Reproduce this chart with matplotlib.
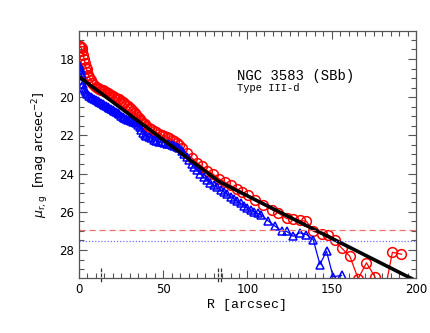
import numpy as np
import matplotlib
matplotlib.use("Agg")
import matplotlib.pyplot as plt
from matplotlib.ticker import MultipleLocator

# r-band profile (red circles)
r_rad = [0.0, 0.5, 1.0, 1.5, 2.0, 2.5, 3.0, 3.5, 4.0, 4.5, 5.0, 5.5, 6.0, 7.0, 8.0, 9.0,
         10.0, 11.0, 12.0, 13.0, 14.0, 15.0, 16.0, 17.0, 18.0, 19.0, 20.0, 21.0, 22.0,
         23.0, 24.0, 25.0, 26.0, 27.0, 28.0, 29.0, 30.0, 31.0, 32.0, 33.0, 34.0, 35.0,
         36.0, 37.0, 38.0, 39.0, 40.0, 41.5, 43.0, 44.5, 46.0, 47.5, 49.0, 50.5, 52.0,
         53.5, 55.0, 56.5, 58.0, 59.5, 61.0, 64.0, 67.0, 70.0, 73.0, 76.0, 79.5, 83.0,
         86.5, 90.0, 93.5, 97.0, 100.5, 104.5, 109.3, 114.3, 118.2, 123.2, 127.1, 131.1,
         135.0, 139.0, 144.0, 148.0, 151.8, 155.8, 160.7, 165.7, 170.6, 175.6, 180.5,
         186.0, 191.4]
r_mu = [17.30, 17.30, 17.35, 17.45, 17.60, 17.80, 18.00, 18.20, 18.40, 18.55, 18.70,
        18.82, 18.93, 19.10, 19.25, 19.38, 19.48, 19.52, 19.55, 19.60, 19.65, 19.70,
        19.75, 19.80, 19.84, 19.88, 19.92, 19.97, 20.02, 20.07, 20.12, 20.18, 20.25,
        20.32, 20.40, 20.48, 20.56, 20.64, 20.74, 20.84, 20.94, 21.04, 21.14, 21.24,
        21.33, 21.42, 21.50, 21.60, 21.68, 21.76, 21.84, 21.92, 21.98, 22.04, 22.10,
        22.16, 22.22, 22.30, 22.40, 22.52, 22.66, 22.94, 23.18, 23.42, 23.62, 23.84,
        24.02, 24.26, 24.44, 24.62, 24.80, 24.98, 25.14, 25.36, 25.62, 25.88, 26.06,
        26.35, 26.40, 26.45, 26.50, 27.02, 27.17, 27.22, 27.45, 27.89, 28.32, 29.50,
        28.67, 29.40, 30.60, 28.12, 28.22]

# g-band profile (blue triangles)
g_rad = [0.0, 0.5, 1.0, 1.5, 2.0, 2.5, 3.0, 3.5, 4.0, 5.0, 6.0, 7.0, 8.0, 9.0, 10.0,
         11.0, 12.0, 13.0, 14.0, 15.0, 16.0, 17.0, 18.0, 19.0, 20.0, 21.0, 22.0, 23.0,
         24.0, 25.0, 26.0, 27.0, 28.0, 29.0, 30.0, 31.0, 32.0, 33.0, 34.0, 35.0, 36.0,
         37.0, 38.0, 39.0, 40.0, 41.5, 43.0, 44.5, 46.0, 47.5, 49.0, 50.5, 52.0, 53.5,
         55.0, 56.5, 58.0, 59.5, 61.0, 62.5, 64.0, 65.5, 67.0, 68.5, 70.0, 72.0, 74.0,
         76.0, 78.0, 80.0, 82.0, 84.0, 86.0, 88.0, 90.0, 92.0, 94.0, 96.0, 98.0, 100.0,
         102.0, 104.0, 106.0, 108.3, 112.3, 116.2, 120.2, 123.2, 127.1, 131.1, 135.0,
         139.0, 143.0, 146.9, 150.8, 155.8]
g_mu = [18.30, 18.40, 18.60, 18.85, 19.10, 19.30, 19.50, 19.62, 19.72, 19.85, 19.93,
        20.00, 20.05, 20.10, 20.14, 20.19, 20.24, 20.30, 20.36, 20.42, 20.48, 20.53,
        20.58, 20.63, 20.68, 20.73, 20.78, 20.84, 20.90, 20.96, 21.02, 21.08, 21.13,
        21.18, 21.22, 21.26, 21.29, 21.32, 21.36, 21.44, 21.57, 21.72, 21.86, 21.97,
        22.04, 22.10, 22.16, 22.22, 22.27, 22.32, 22.36, 22.40, 22.44, 22.47, 22.50,
        22.54, 22.60, 22.68, 22.80, 22.95, 23.12, 23.30, 23.48, 23.64, 23.80, 24.02,
        24.18, 24.33, 24.47, 24.60, 24.72, 24.84, 24.96, 25.08, 25.20, 25.32, 25.44,
        25.56, 25.67, 25.78, 25.89, 25.99, 26.08, 26.17, 26.48, 26.74, 27.00, 27.02,
        27.28, 27.10, 27.19, 27.45, 28.76, 28.06, 29.40, 29.33]

# broken exponential fit
fit_rad = [0.0, 83.0, 200.0]
fit_mu = [18.93, 24.41, 29.61]

# surface brightness limits
lim_r = 26.93
lim_g = 27.54

# break radii markers
breaks = [13.0, 82.5, 84.2]

fig = plt.figure(figsize=(4.3, 3.33), dpi=100)
ax = fig.add_axes([0.1837, 0.1643, 0.7837, 0.7435])

ax.plot(r_rad, r_mu, color="red", lw=0.9, marker="o", ms=7, mfc="none",
        mec="red", mew=1.1)
ax.plot(g_rad, g_mu, color="blue", lw=0.9, marker="^", ms=6, mfc="none",
        mec="blue", mew=1.1)
ax.plot(fit_rad, fit_mu, color="black", lw=2.6)

ax.axhline(lim_r, color="#f07070", lw=0.9, ls=(0, (5, 3)))
ax.axhline(lim_g, color="#7070ff", lw=0.9, ls=(0, (1, 1.5)))

for b in breaks:
    ax.plot([b, b], [28.95, 29.75], color="#333333", lw=0.9, ls=(0, (3, 1)),
            clip_on=False)

ax.set_xlim(0, 200)
ax.set_ylim(29.48, 16.52)
ax.xaxis.set_major_locator(MultipleLocator(50))
ax.xaxis.set_minor_locator(MultipleLocator(5))
ax.yaxis.set_major_locator(MultipleLocator(2))
ax.yaxis.set_minor_locator(MultipleLocator(0.5))
ax.tick_params(which="both", direction="in", top=True, right=True,
               color="#555555", labelsize=8.5)
ax.tick_params(which="major", length=6, width=0.8)
ax.tick_params(which="minor", length=3.5, width=0.8)
for s in ax.spines.values():
    s.set_color("#555555")
    s.set_linewidth(0.9)

ax.set_xlabel("R [arcsec]", family="Liberation Mono", fontsize=9.5, labelpad=2)
ax.set_ylabel(r"$\mu_{\rm r,g}$  [mag arcsec$^{-2}$]", fontsize=9, labelpad=6)

ax.text(0.468, 0.80, "NGC 3583 (SBb)", transform=ax.transAxes,
        family="Liberation Mono", fontsize=10)
ax.text(0.468, 0.755, "Type III-d", transform=ax.transAxes,
        family="Liberation Mono", fontsize=7.5)

fig.savefig("out.png", dpi=100)
